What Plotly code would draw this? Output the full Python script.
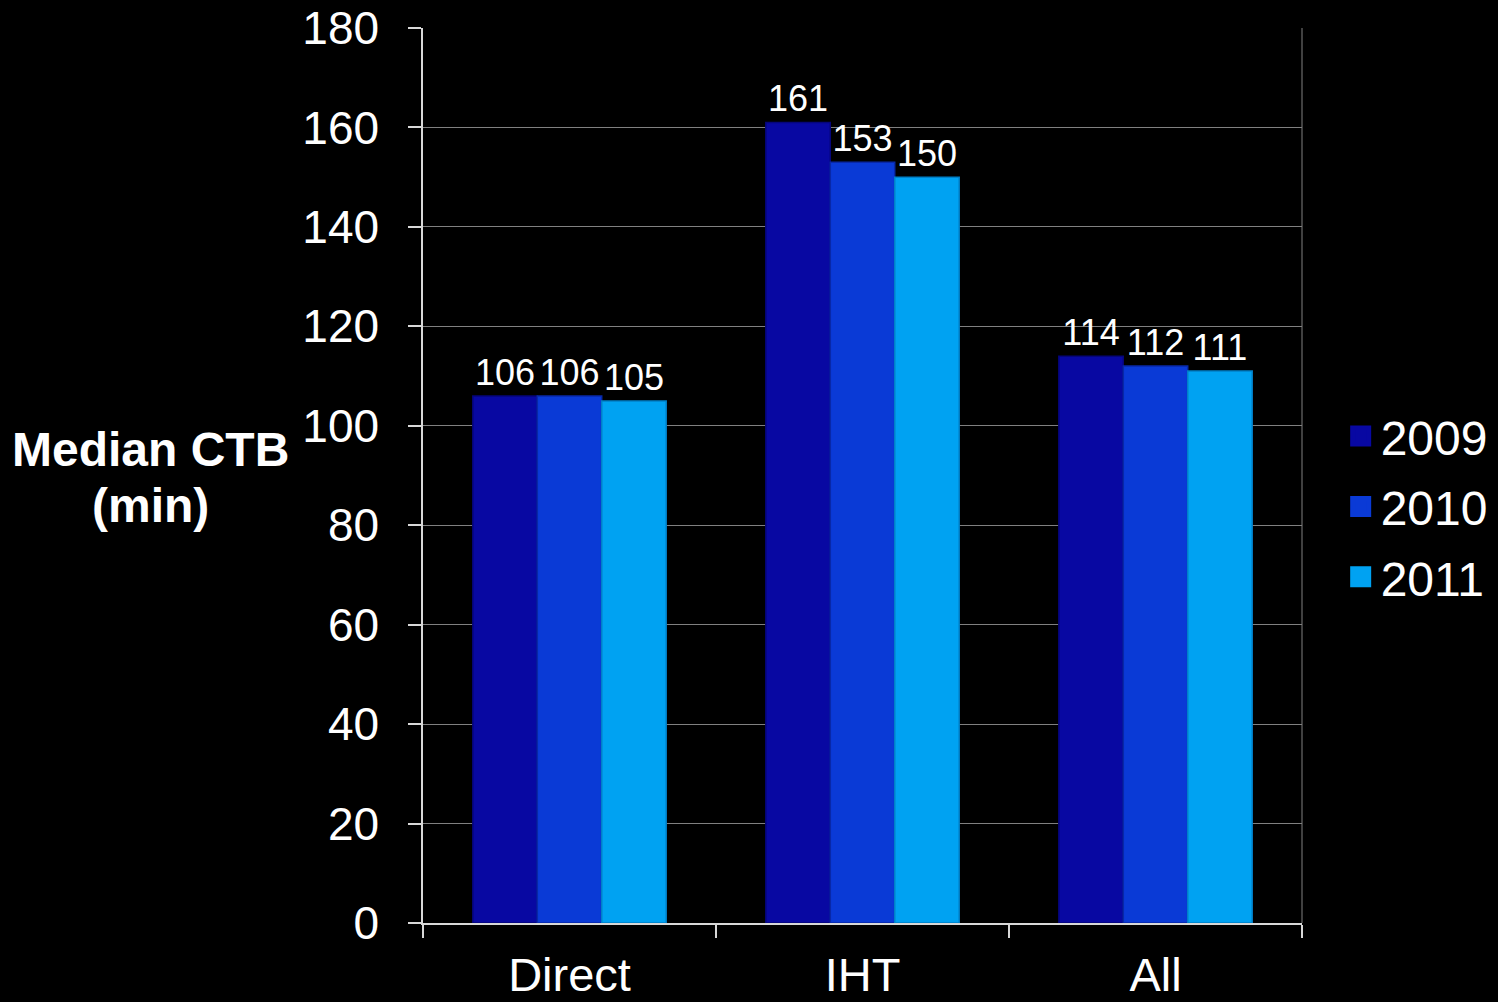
import plotly.graph_objects as go

categories = ["Direct", "IHT", "All"]
years = ["2009", "2010", "2011"]
values_2009 = [106, 161, 114]
values_2010 = [106, 153, 112]
values_2011 = [105, 150, 111]
series = [values_2009, values_2010, values_2011]
colors = ["#0808a2", "#0a3ad6", "#00a2f2"]
edge_colors = ["#05057a", "#0828a8", "#0080c8"]
y_ticks = [0, 20, 40, 60, 80, 100, 120, 140, 160, 180]

FONT = "Liberation Sans, Arial, sans-serif"

fig = go.Figure()
for name, vals, col, edge in zip(years, series, colors, edge_colors):
    fig.add_trace(go.Bar(
        x=categories, y=vals, name=name, marker=dict(color=col, line=dict(color=edge, width=1.5)),
        text=[str(v) for v in vals], textposition="outside", cliponaxis=False,
        textfont=dict(color="white", size=36, family=FONT),
        showlegend=False,
    ))
for name, col, edge in zip(years, colors, edge_colors):
    fig.add_trace(go.Scatter(
        x=[None], y=[None], mode="markers", name=name, legendgroup=name,
        marker=dict(symbol="square", size=16, color=col, line=dict(color=col, width=5)),
    ))

fig.update_layout(
    width=1498, height=1002,
    paper_bgcolor="black", plot_bgcolor="black",
    margin=dict(l=423, r=196, t=28, b=79, autoexpand=False),
    barmode="group", bargap=0.34, bargroupgap=0,
    font=dict(family=FONT, color="white"),
    legend=dict(
        x=1.044, y=0.465, xanchor="left", yanchor="middle",
        font=dict(size=48, color="white", family=FONT),
        tracegroupgap=5, itemwidth=30, bgcolor="rgba(0,0,0,0)",
    ),
    showlegend=True,
)
fig.update_yaxes(
    range=[0, 180], tickvals=y_ticks, ticktext=[str(t) for t in y_ticks],
    showgrid=True, gridcolor="#808080", gridwidth=1,
    showline=True, linecolor="#d8d8d8", linewidth=1.5,
    ticks="outside", ticklen=13, tickcolor="#d8d8d8", tickwidth=1.5,
    tickfont=dict(size=46, color="white", family=FONT), ticklabelstandoff=20,
    zeroline=False, automargin=False,
)
fig.update_xaxes(
    showline=True, linecolor="#d8d8d8", linewidth=2,
    ticks="outside", ticklen=13, tickcolor="#d8d8d8", tickwidth=1.5, tickson="boundaries",
    tickfont=dict(size=47, color="white", family=FONT), ticklabelstandoff=10,
    showgrid=False, automargin=False,
)
fig.add_shape(type="line", xref="paper", yref="paper", x0=1, x1=1, y0=0, y1=1,
              line=dict(color="#808080", width=1))
fig.add_annotation(
    text="<b>Median CTB</b>", xref="paper", yref="paper", x=-0.31, y=0.5285,
    xanchor="center", yanchor="middle", showarrow=False,
    font=dict(size=48, color="white", family=FONT), align="center",
)
fig.add_annotation(
    text="<b>(min)</b>", xref="paper", yref="paper", x=-0.31, y=0.467,
    xanchor="center", yanchor="middle", showarrow=False,
    font=dict(size=48, color="white", family=FONT), align="center",
)

fig.write_html(
    "out.html",
    config={"displayModeBar": False},
    post_script="document.body.style.margin='0';document.body.style.background='black';",
)
